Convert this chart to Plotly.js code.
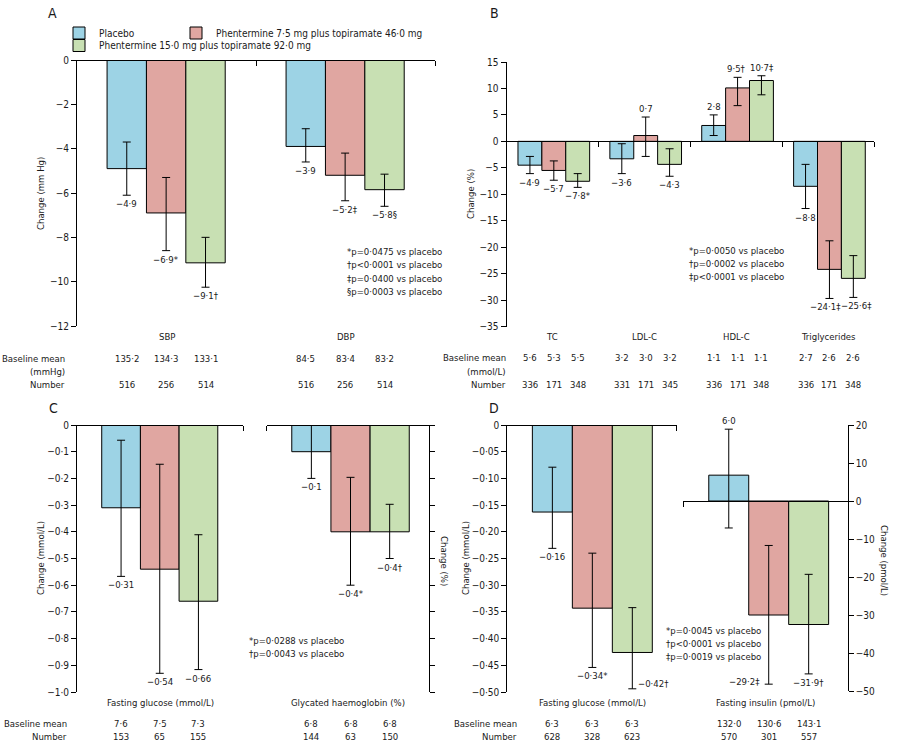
<!DOCTYPE html>
<html><head><meta charset="utf-8">
<script src="https://cdn.plot.ly/plotly-3.0.1.min.js"></script>
<style>body{margin:0;background:#fff}#chart{width:900px;height:744px}</style>
</head><body><div id="chart"></div>
<script>
// ===================== DATA =====================
const seriesNames = ['Placebo', 'Phentermine 7·5 mg plus topiramate 46·0 mg', 'Phentermine 15·0 mg plus topiramate 92·0 mg'];

// ---- Panel A: blood pressure (mm Hg) ----
const bpCategories = ['SBP', 'DBP'];
const bpPlacebo = [-4.9, -3.9];
const bpPlaceboLo = [-6.1, -4.6];
const bpPlaceboHi = [-3.7, -3.1];
const bpMid = [-6.9, -5.2];
const bpMidLo = [-8.6, -6.35];
const bpMidHi = [-5.3, -4.2];
const bpTop = [-9.15, -5.85];
const bpTopLo = [-10.25, -6.6];
const bpTopHi = [-8.0, -5.15];
const bpPlaceboLabels = ['−4·9', '−3·9'];
const bpMidLabels = ['−6·9*', '−5·2‡'];
const bpTopLabels = ['−9·1†', '−5·8§'];
const bpBasePlacebo = ['135·2', '84·5'];
const bpBaseMid = ['134·3', '83·4'];
const bpBaseTop = ['133·1', '83·2'];
const bpNumPlacebo = ['516', '516'];
const bpNumMid = ['256', '256'];
const bpNumTop = ['514', '514'];
const bpTickVals = [0, -2, -4, -6, -8, -10, -12];
const bpTickText = ['0', '−2', '−4', '−6', '−8', '−10', '−12'];
const bpNotes = ['*p=0·0475 vs placebo', '†p<0·0001 vs placebo', '‡p=0·0400 vs placebo', '§p=0·0003 vs placebo'];

// ---- Panel B: lipids (% change) ----
const lipCategories = ['TC', 'LDL-C', 'HDL-C', 'Triglycerides'];
const lipPlacebo = [-4.5, -3.3, 3.0, -8.5];
const lipPlaceboLo = [-6.1, -6.1, 1.1, -12.7];
const lipPlaceboHi = [-2.85, -0.45, 5.0, -4.35];
const lipMid = [-5.5, 1.1, 10.1, -24.2];
const lipMidLo = [-7.35, -2.85, 6.75, -29.7];
const lipMidHi = [-3.7, 4.6, 12.1, -18.8];
const lipTop = [-7.55, -4.35, 11.5, -25.9];
const lipTopLo = [-8.7, -6.6, 8.8, -29.5];
const lipTopHi = [-6.1, -1.4, 12.4, -21.6];
const lipPlaceboLabels = ['−4·9', '−3·6', '2·8', '−8·8'];
const lipMidLabels = ['−5·7', '0·7', '9·5†', '−24·1‡'];
const lipTopLabels = ['−7·8*', '−4·3', '10·7‡', '−25·6‡'];
const lipBasePlacebo = ['5·6', '3·2', '1·1', '2·7'];
const lipBaseMid = ['5·3', '3·0', '1·1', '2·6'];
const lipBaseTop = ['5·5', '3·2', '1·1', '2·6'];
const lipNumPlacebo = ['336', '331', '336', '336'];
const lipNumMid = ['171', '171', '171', '171'];
const lipNumTop = ['348', '345', '348', '348'];
const lipTickVals = [15, 10, 5, 0, -5, -10, -15, -20, -25, -30, -35];
const lipTickText = ['15', '10', '5', '0', '−5', '−10', '−15', '−20', '−25', '−30', '−35'];
const lipNotes = ['*p=0·0050 vs placebo', '†p=0·0002 vs placebo', '‡p<0·0001 vs placebo'];

// ---- Panel C: patients with diabetes ----
const cGluCategories = ['Fasting glucose (mmol/L)'];
const cGluPlacebo = [-0.31], cGluPlaceboLo = [-0.567], cGluPlaceboHi = [-0.057];
const cGluMid = [-0.54], cGluMidLo = [-0.93], cGluMidHi = [-0.147];
const cGluTop = [-0.66], cGluTopLo = [-0.916], cGluTopHi = [-0.411];
const cGluLabels = [['−0·31'], ['−0·54'], ['−0·66']];
const cGluBase = [['7·6'], ['7·5'], ['7·3']];
const cGluNum = [['153'], ['65'], ['155']];
const cHbCategories = ['Glycated haemoglobin (%)'];
const cHbPlacebo = [-0.1], cHbPlaceboLo = [-0.2], cHbPlaceboHi = [0.0];
const cHbMid = [-0.4], cHbMidLo = [-0.6], cHbMidHi = [-0.196];
const cHbTop = [-0.4], cHbTopLo = [-0.5], cHbTopHi = [-0.297];
const cHbLabels = [['−0·1'], ['−0·4*'], ['−0·4†']];
const cHbBase = [['6·8'], ['6·8'], ['6·8']];
const cHbNum = [['144'], ['63'], ['150']];
const cTickVals = [0, -0.1, -0.2, -0.3, -0.4, -0.5, -0.6, -0.7, -0.8, -0.9, -1.0];
const cTickText = ['0', '−0·1', '−0·2', '−0·3', '−0·4', '−0·5', '−0·6', '−0·7', '−0·8', '−0·9', '−1·0'];
const cNotes = ['*p=0·0288 vs placebo', '†p=0·0043 vs placebo'];

// ---- Panel D: glucose and insulin ----
const dGluCategories = ['Fasting glucose (mmol/L)'];
const dGluPlacebo = [-0.163], dGluPlaceboLo = [-0.231], dGluPlaceboHi = [-0.079];
const dGluMid = [-0.343], dGluMidLo = [-0.454], dGluMidHi = [-0.24];
const dGluTop = [-0.426], dGluTopLo = [-0.494], dGluTopHi = [-0.342];
const dGluLabels = [['−0·16'], ['−0·34*'], ['−0·42†']];
const dGluBase = [['6·3'], ['6·3'], ['6·3']];
const dGluNum = [['628'], ['328'], ['623']];
const dGluTickVals = [0, -0.05, -0.10, -0.15, -0.20, -0.25, -0.30, -0.35, -0.40, -0.45, -0.50];
const dGluTickText = ['0', '−0·05', '−0·10', '−0·15', '−0·20', '−0·25', '−0·30', '−0·35', '−0·40', '−0·45', '−0·50'];
const dInsCategories = ['Fasting insulin (pmol/L)'];
const dInsPlacebo = [6.8], dInsPlaceboLo = [-7.1], dInsPlaceboHi = [18.9];
const dInsMid = [-30.0], dInsMidLo = [-48.2], dInsMidHi = [-11.7];
const dInsTop = [-32.5], dInsTopLo = [-45.5], dInsTopHi = [-19.3];
const dInsLabels = [['6·0'], ['−29·2‡'], ['−31·9†']];
const dInsBase = [['132·0'], ['130·6'], ['143·1']];
const dInsNum = [['570'], ['301'], ['557']];
const dInsTickVals = [20, 10, 0, -10, -20, -30, -40, -50];
const dInsTickText = ['20', '10', '0', '−10', '−20', '−30', '−40', '−50'];
const dNotes = ['*p=0·0045 vs placebo', '†p<0·0001 vs placebo', '‡p=0·0019 vs placebo'];

// ===================== LAYOUT HELPERS =====================
const W = 900, H = 744;
const px2x = p => p / W;
const px2y = p => (H - p) / H;
const FONT = '"DejaVu Sans Condensed", "Liberation Sans Narrow", sans-serif';
const FS = 9.5;
const INK = '#1a1a1a';
const COLORS = ['#9dd3e5', '#e0a6a1', '#c8e0b3'];

const panels = [
  { xa: 'x', ya: 'y', cats: bpCategories,
    vals: [bpPlacebo, bpMid, bpTop], lo: [bpPlaceboLo, bpMidLo, bpTopLo], hi: [bpPlaceboHi, bpMidHi, bpTopHi],
    labels: [bpPlaceboLabels, bpMidLabels, bpTopLabels], base: [bpBasePlacebo, bpBaseMid, bpBaseTop], num: [bpNumPlacebo, bpNumMid, bpNumTop],
    xpx: [77, 435], ypx: [60, 326], yrange: [-12, 0], tv: bpTickVals, tt: bpTickText, side: 'left', ylabels: true,
    sep: [0.5, 1.5], barw: 0.22, start: -0.332, catY: 336, baseY: 358, numY: 384 },
  { xa: 'x2', ya: 'y2', cats: lipCategories,
    vals: [lipPlacebo, lipMid, lipTop], lo: [lipPlaceboLo, lipMidLo, lipTopLo], hi: [lipPlaceboHi, lipMidHi, lipTopHi],
    labels: [lipPlaceboLabels, lipMidLabels, lipTopLabels], base: [lipBasePlacebo, lipBaseMid, lipBaseTop], num: [lipNumPlacebo, lipNumMid, lipNumTop],
    xpx: [506.5, 874], ypx: [62, 326.5], yrange: [-35, 15], tv: lipTickVals, tt: lipTickText, side: 'left', ylabels: true,
    sep: [0.5, 1.5, 2.5, 3.5], barw: 0.26, start: -0.375, catY: 336, baseY: 357.5, numY: 384,
    labelDx: [[0, 0, 0, 0], [0, 0, -1, -4], [0, 0, 1, 3]] },
  { xa: 'x3', ya: 'y3', cats: cGluCategories,
    vals: [cGluPlacebo, cGluMid, cGluTop], lo: [cGluPlaceboLo, cGluMidLo, cGluTopLo], hi: [cGluPlaceboHi, cGluMidHi, cGluTopHi],
    labels: cGluLabels, base: cGluBase, num: cGluNum,
    xpx: [77, 243], ypx: [425, 692], yrange: [-1, 0], tv: cTickVals, tt: cTickText, side: 'left', ylabels: true,
    sep: [0.5], barw: 0.233, start: -0.351, catY: 702.5, baseY: 723.5, numY: 736.5 },
  { xa: 'x4', ya: 'y4', cats: cHbCategories,
    vals: [cHbPlacebo, cHbMid, cHbTop], lo: [cHbPlaceboLo, cHbMidLo, cHbTopLo], hi: [cHbPlaceboHi, cHbMidHi, cHbTopHi],
    labels: cHbLabels, base: cHbBase, num: cHbNum,
    xpx: [266.7, 428.5], ypx: [425, 692], yrange: [-1, 0], tv: cTickVals, tt: cTickText, side: 'right', ylabels: false,
    sep: [-0.5], barw: 0.242, start: -0.345, catY: 702.5, baseY: 723.5, numY: 736.5 },
  { xa: 'x5', ya: 'y5', cats: dGluCategories,
    vals: [dGluPlacebo, dGluMid, dGluTop], lo: [dGluPlaceboLo, dGluMidLo, dGluTopLo], hi: [dGluPlaceboHi, dGluMidHi, dGluTopHi],
    labels: dGluLabels, base: dGluBase, num: dGluNum,
    xpx: [507.3, 676.7], ypx: [425, 692], yrange: [-0.5, 0], tv: dGluTickVals, tt: dGluTickText, side: 'left', ylabels: true,
    sep: [0.5], barw: 0.236, start: -0.352, catY: 702.5, baseY: 723.5, numY: 736.5,
    labelMode: [null, null, 'right'] },
  { xa: 'x6', ya: 'y6', cats: dInsCategories,
    vals: [dInsPlacebo, dInsMid, dInsTop], lo: [dInsPlaceboLo, dInsMidLo, dInsTopLo], hi: [dInsPlaceboHi, dInsMidHi, dInsTopHi],
    labels: dInsLabels, base: dInsBase, num: dInsNum,
    xpx: [683.3, 847.7], ypx: [425, 691], yrange: [-50, 20], tv: dInsTickVals, tt: dInsTickText, side: 'right', ylabels: true,
    sep: [-0.5], barw: 0.243, start: -0.345, catY: 702.5, baseY: 723.5, numY: 736.5,
    labelMode: [null, 'left', null] }
];

const traces = [];
const annotations = [];
const layout = {
  width: W, height: H, margin: { l: 0, r: 0, t: 0, b: 0 },
  paper_bgcolor: '#fff', plot_bgcolor: 'rgba(0,0,0,0)',
  font: { family: FONT, size: FS, color: INK },
  separators: '·,', barmode: 'overlay', showlegend: true,
  hovermode: false
};

const legendNames = ['legend', 'legend2', 'legend3'];
const legendPos = [[59, 33], [176, 33], [59, 45.5]];
legendNames.forEach((ln, k) => {
  layout[ln] = { x: px2x(legendPos[k][0]), xanchor: 'left', y: px2y(legendPos[k][1]), yanchor: 'middle',
    bgcolor: 'rgba(0,0,0,0)', borderwidth: 0, font: { family: FONT, size: FS + 0.5, color: INK }, orientation: 'v' };
});

function txt(o) {
  return Object.assign({ showarrow: false, font: { family: FONT, size: FS, color: INK } }, o);
}

panels.forEach((p, pi) => {
  const n = p.cats.length;
  const xs = p.cats.map((_, i) => i);
  const ydom = [px2y(p.ypx[1]), px2y(p.ypx[0])];
  const zeroPaper = ydom[0] + (0 - p.yrange[0]) / (p.yrange[1] - p.yrange[0]) * (ydom[1] - ydom[0]);
  const xKey = 'xaxis' + p.xa.slice(1);
  const yKey = 'yaxis' + p.ya.slice(1);
  layout[xKey] = {
    domain: [px2x(p.xpx[0]), px2x(p.xpx[1])], range: [-0.5, n - 0.5],
    anchor: 'free', position: zeroPaper, side: 'bottom',
    showline: true, linecolor: '#000', linewidth: 1,
    ticks: 'outside', ticklen: 5, tickcolor: '#000', tickwidth: 1, tickmode: 'array', tickvals: p.sep,
    showticklabels: false, showgrid: false, zeroline: false, fixedrange: true, automargin: false
  };
  layout[yKey] = {
    domain: ydom, range: p.yrange, anchor: p.xa, side: p.side,
    showline: true, linecolor: '#000', linewidth: 1,
    ticks: 'outside', ticklen: 5, tickcolor: '#000', tickwidth: 1,
    tickmode: 'array', tickvals: p.tv, ticktext: p.tt, showticklabels: p.ylabels,
    tickfont: { family: FONT, size: FS + 0.5, color: INK },
    showgrid: false, zeroline: false, fixedrange: true, automargin: false
  };

  for (let k = 0; k < 3; k++) {
    const v = p.vals[k];
    traces.push({
      type: 'bar', x: xs, y: v, xaxis: p.xa, yaxis: p.ya,
      width: p.barw, offset: p.start + k * p.barw,
      marker: { color: COLORS[k], line: { color: '#000', width: 1 } },
      error_y: { type: 'data', symmetric: false,
        array: v.map((y, i) => p.hi[k][i] - y), arrayminus: v.map((y, i) => y - p.lo[k][i]),
        color: '#000', thickness: 1, width: 4 },
      name: seriesNames[k], showlegend: pi === 0, legend: legendNames[k], hoverinfo: 'skip'
    });
    xs.forEach(i => {
      const cx = i + p.start + (k + 0.5) * p.barw;
      const mode = (p.labelMode && p.labelMode[k]) || (v[i] >= 0 ? 'above' : 'below');
      const dx = p.labelDx ? p.labelDx[k][i] : 0;
      const a = { xref: p.xa, yref: p.ya, x: cx, text: p.labels[k][i], xshift: dx };
      if (mode === 'above') Object.assign(a, { y: p.hi[k][i], yanchor: 'bottom', yshift: 1 });
      else if (mode === 'below') Object.assign(a, { y: p.lo[k][i], yanchor: 'top', yshift: -1 });
      else if (mode === 'right') Object.assign(a, { y: p.lo[k][i], xanchor: 'left', xshift: 4, yanchor: 'middle', yshift: 5 });
      else Object.assign(a, { y: p.lo[k][i], xanchor: 'right', xshift: -7, yanchor: 'middle', yshift: 3 });
      annotations.push(txt(a));
      annotations.push(txt({ xref: p.xa, yref: 'paper', x: cx, y: px2y(p.baseY), yanchor: 'middle', text: p.base[k][i] }));
      annotations.push(txt({ xref: p.xa, yref: 'paper', x: cx, y: px2y(p.numY), yanchor: 'middle', text: p.num[k][i] }));
    });
  }
  p.cats.forEach((c, i) => {
    annotations.push(txt({ xref: p.xa, yref: 'paper', x: i, y: px2y(p.catY), yanchor: 'middle', text: c }));
  });
});

// Row headers
const rowHeaders = [
  { x: 67, rows: [['Baseline mean', 358], ['(mmHg)', 371.5], ['Number', 384]] },
  { x: 508, rows: [['Baseline mean', 357.5], ['(mmol/L)', 371], ['Number', 384]] },
  { x: 69, rows: [['Baseline mean', 723.5], ['Number', 736.5]] },
  { x: 519, rows: [['Baseline mean', 723.5], ['Number', 736.5]] }
];
rowHeaders.forEach(h => h.rows.forEach(r => {
  annotations.push(txt({ xref: 'paper', yref: 'paper', x: px2x(h.x), y: px2y(r[1]), xanchor: 'right', yanchor: 'middle', text: r[0] }));
}));

// Panel letters
[['A', 52, 13], ['B', 494, 13], ['C', 53, 408], ['D', 494, 408]].forEach(l => {
  annotations.push(txt({ xref: 'paper', yref: 'paper', x: px2x(l[1]), y: px2y(l[2]), xanchor: 'center', yanchor: 'middle', text: l[0],
    font: { family: FONT, size: 14, color: INK } }));
});

// Axis titles
[['Change (mm Hg)', 40, 194, -90], ['Change (%)', 470, 194, -90], ['Change (mmol/L)', 40, 558, -90],
 ['Change (mmol/L)', 465, 558, -90], ['Change (%)', 445, 561, 90], ['Change (pmol/L)', 885, 560, 90]].forEach(t => {
  annotations.push(txt({ xref: 'paper', yref: 'paper', x: px2x(t[1]), y: px2y(t[2]), xanchor: 'center', yanchor: 'middle', text: t[0], textangle: t[3] }));
});

// p-value notes
[[bpNotes, 345, 251.5], [lipNotes, 686.5, 250], [cNotes, 246.5, 640], [dNotes, 664, 630]].forEach(nb => {
  nb[0].forEach((line, j) => {
    annotations.push(txt({ xref: 'paper', yref: 'paper', x: px2x(nb[1]), y: px2y(nb[2] + j * 13.3), xanchor: 'left', yanchor: 'middle', text: line }));
  });
});

layout.annotations = annotations;
Plotly.newPlot('chart', traces, layout, { staticPlot: true, displayModeBar: false });
</script>
</body></html>
